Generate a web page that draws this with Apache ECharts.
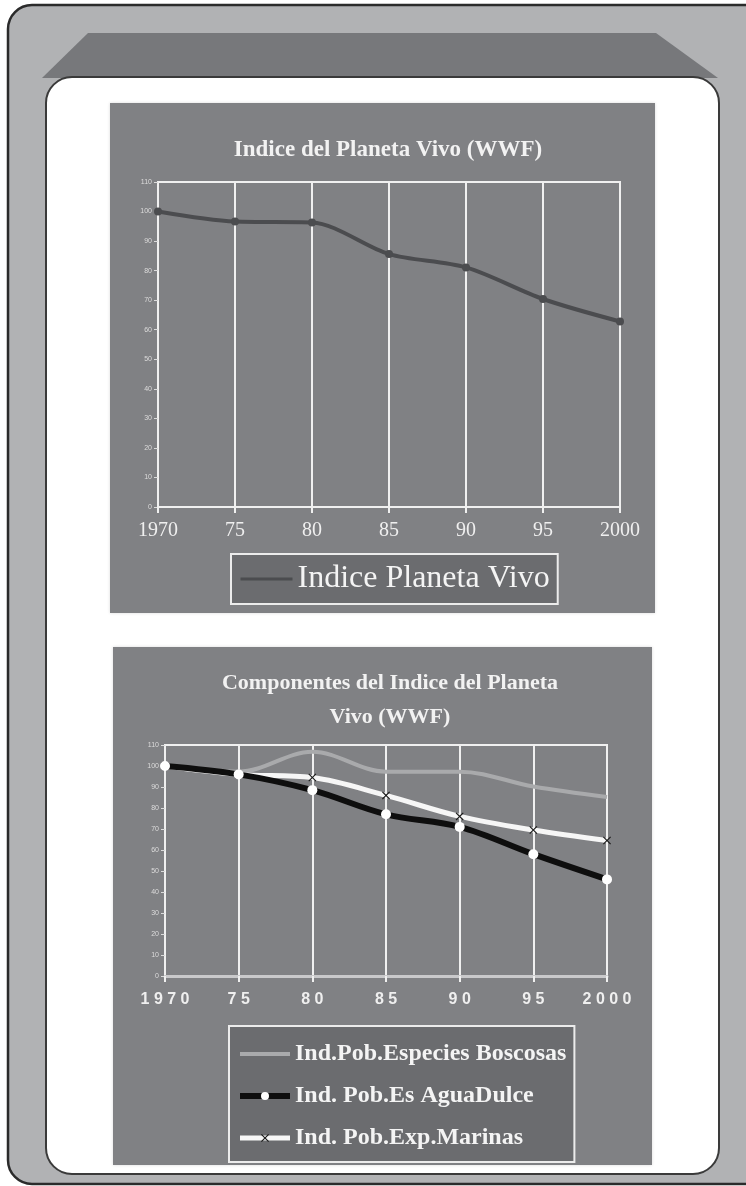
<!DOCTYPE html>
<html>
<head>
<meta charset="utf-8">
<title>Indice del Planeta Vivo (WWF)</title>
<script src="https://cdn.jsdelivr.net/npm/echarts@6/dist/echarts.min.js"></script>
<style>
  html, body { margin: 0; padding: 0; background: #ffffff; }
  #chart { width: 746px; height: 1186px; }
</style>
</head>
<body>
<div id="chart"></div>
<script>
// Years on both horizontal axes
const years = ['1970', '75', '80', '85', '90', '95', '2000'];

// Living Planet Index (1970 = 100)
const indicePlanetaVivo = [100, 96.6, 96.3, 85.6, 81.1, 70.4, 62.8];

// Components of the index
const especiesBoscosas = [100, 97.3, 106.8, 97.3, 97.3, 90.2, 85.2];
const especiesAguaDulce = [100, 96, 88.5, 77, 71, 58, 46];
const especiesMarinas = [100, 96, 94.5, 86, 76, 69.5, 64.5];

// Value axis range shared by both charts
const yMin = 0;
const yMax = 110;
const yStep = 10;

const serif = '"Liberation Serif", "DejaVu Serif", serif';
const sans = '"Liberation Sans", Arial, sans-serif';
const panelGray = '#808184';
const gridWhite = '#f0f0f0';

const chart = echarts.init(document.getElementById('chart'), null, { renderer: 'canvas' });

function valueAxis(gridIndex) {
  return {
    type: 'value', gridIndex, min: yMin, max: yMax, interval: yStep,
    axisLine: { show: true, lineStyle: { color: gridWhite, width: 2 } },
    axisTick: { show: true, length: 4, lineStyle: { color: '#dcdcdc', width: 1 } },
    axisLabel: { fontSize: 7, color: '#dcdcdc', margin: 6, fontFamily: sans },
    splitLine: { show: false }
  };
}

const option = {
  backgroundColor: '#ffffff',
  animation: false,
  graphic: [
    // outer frame
    { type: 'rect', z: -20, shape: { x: 8, y: 5, width: 900, height: 1179, r: [24, 0, 0, 24] },
      style: { fill: '#b1b2b4', stroke: '#2b2b2b', lineWidth: 2.5 } },
    // dark bevel above the white board
    { type: 'polygon', z: -19, shape: { points: [[88, 33], [656, 33], [718, 78], [42, 78]] },
      style: { fill: '#77787b' } },
    // white board
    { type: 'rect', z: -18, shape: { x: 46, y: 77, width: 673, height: 1097, r: 26 },
      style: { fill: '#ffffff', stroke: '#3a3a3a', lineWidth: 2 } },
    // chart panels
    { type: 'rect', z: -17, shape: { x: 110, y: 103, width: 545, height: 510 },
      style: { fill: panelGray, shadowColor: 'rgba(0,0,0,0.15)', shadowBlur: 3 } },
    { type: 'rect', z: -17, shape: { x: 113, y: 647, width: 539, height: 518 },
      style: { fill: panelGray, shadowColor: 'rgba(0,0,0,0.15)', shadowBlur: 3 } }
  ],
  title: [
    {
      text: 'Indice del Planeta Vivo (WWF)',
      left: 383, top: 134, textAlign: 'center',
      textStyle: { fontFamily: serif, fontWeight: 'bold', fontSize: 23, color: '#f2f2f2' }
    },
    {
      text: 'Componentes del Indice del Planeta\nVivo (WWF)',
      left: 385, top: 661, textAlign: 'center',
      textStyle: { fontFamily: serif, fontWeight: 'bold', fontSize: 22, lineHeight: 34, color: '#f2f2f2' }
    }
  ],
  legend: [
    {
      data: [{ name: 'Indice Planeta Vivo', itemStyle: { opacity: 0 } }],
      left: 231, top: 554,
      padding: [9, 8, 9, 8],
      itemWidth: 52, itemHeight: 12, itemGap: 4,
      lineStyle: { width: 3 },
      backgroundColor: '#6b6c6f', borderColor: '#ececec', borderWidth: 2,
      textStyle: { fontFamily: serif, fontSize: 32, color: '#f4f4f4' }
    },
    {
      data: [
        { name: 'Ind.Pob.Especies Boscosas', itemStyle: { opacity: 0 } },
        'Ind. Pob.Es AguaDulce',
        'Ind. Pob.Exp.Marinas'
      ],
      orient: 'vertical',
      left: 229, top: 1026,
      padding: [16, 8, 12, 8],
      itemWidth: 50, itemHeight: 10, itemGap: 18,
      lineStyle: { width: 'inherit' },
      backgroundColor: '#6b6c6f', borderColor: '#ececec', borderWidth: 2,
      textStyle: { fontFamily: serif, fontWeight: 'bold', fontSize: 24, lineHeight: 24, color: '#f4f4f4' }
    }
  ],
  grid: [
    { left: 158, right: 126, top: 182, bottom: 679, show: true, borderColor: gridWhite, borderWidth: 2, backgroundColor: 'transparent' },
    { left: 165, right: 139, top: 745, bottom: 210, show: true, borderColor: gridWhite, borderWidth: 2, backgroundColor: 'transparent' }
  ],
  xAxis: [
    {
      type: 'category', gridIndex: 0, data: years, boundaryGap: false,
      axisLine: { lineStyle: { color: gridWhite, width: 2 } },
      axisTick: { show: true, length: 6, inside: false, lineStyle: { color: gridWhite, width: 2 } },
      axisLabel: { fontFamily: serif, fontSize: 20, color: '#efefef', margin: 14 },
      splitLine: { show: true, lineStyle: { color: gridWhite, width: 2 } }
    },
    {
      type: 'category', gridIndex: 1, data: years, boundaryGap: false,
      axisLine: { lineStyle: { color: '#c9c9cb', width: 3 } },
      axisTick: { show: true, length: 6, lineStyle: { color: gridWhite, width: 2 } },
      axisLabel: {
        fontFamily: sans, fontWeight: 'bold', fontSize: 16, color: '#efefef', margin: 16,
        formatter: (v) => v.split('').join(' ')
      },
      splitLine: { show: true, lineStyle: { color: gridWhite, width: 2 } }
    }
  ],
  yAxis: [valueAxis(0), valueAxis(1)],
  series: [
    {
      name: 'Indice Planeta Vivo', type: 'line', xAxisIndex: 0, yAxisIndex: 0,
      data: indicePlanetaVivo, smooth: 0.3,
      symbol: 'circle', symbolSize: 8,
      lineStyle: { color: '#4b4c4f', width: 4 },
      itemStyle: { color: '#4b4c4f' }
    },
    {
      name: 'Ind.Pob.Especies Boscosas', type: 'line', xAxisIndex: 1, yAxisIndex: 1, z: 2,
      data: especiesBoscosas, smooth: 0.35,
      symbol: 'none',
      lineStyle: { color: '#a9aaac', width: 4 },
      itemStyle: { color: '#a9aaac' }
    },
    {
      name: 'Ind. Pob.Es AguaDulce', type: 'line', xAxisIndex: 1, yAxisIndex: 1, z: 4,
      data: especiesAguaDulce, smooth: 0.35,
      symbol: 'circle', symbolSize: 10,
      lineStyle: { color: '#0e0e0e', width: 6 },
      itemStyle: { color: '#ffffff', borderWidth: 0 }
    },
    {
      name: 'Ind. Pob.Exp.Marinas', type: 'line', xAxisIndex: 1, yAxisIndex: 1, z: 3,
      data: especiesMarinas, smooth: 0.35,
      symbol: 'path://M0,1L1,0L5,4L9,0L10,1L6,5L10,9L9,10L5,6L1,10L0,9L4,5Z', symbolSize: 8,
      lineStyle: { color: '#f6f6f6', width: 5 },
      itemStyle: { color: '#1a1a1a' }
    }
  ]
};

chart.setOption(option);
</script>
</body>
</html>
